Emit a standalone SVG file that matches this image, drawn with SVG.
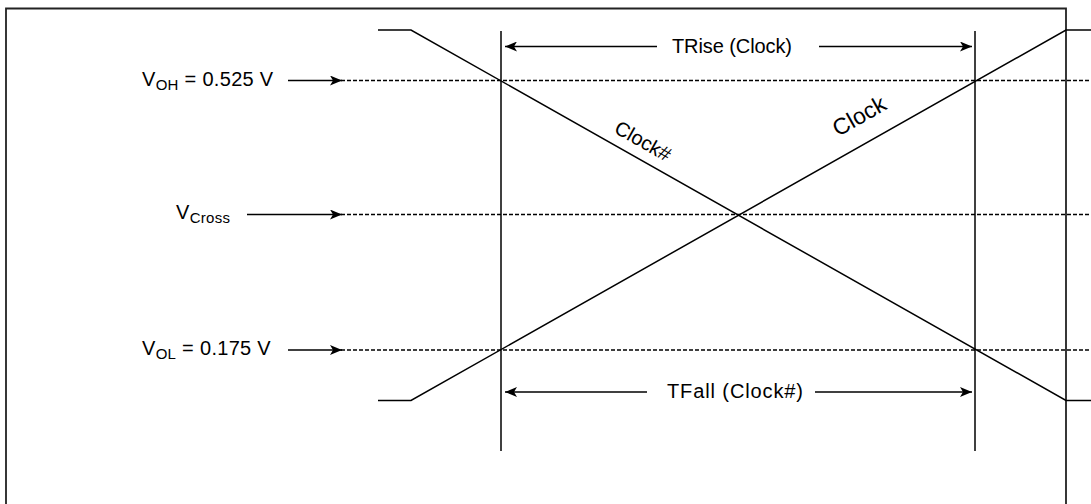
<svg xmlns="http://www.w3.org/2000/svg" width="1091" height="504" viewBox="0 0 1091 504">
<style>
.ln{stroke:#000;stroke-width:1.5;fill:none}
.ds{stroke:#000;stroke-width:1.4;fill:none;stroke-dasharray:4,2}
.fr{stroke:#222;stroke-width:1.8;fill:none}
.t{font-family:"Liberation Sans",Arial,sans-serif;font-size:20px;fill:#000}
.s{font-size:15px}
</style>
<defs>
<marker id="ah" viewBox="0 0 12 10" refX="12" refY="5" markerWidth="12" markerHeight="10" markerUnits="userSpaceOnUse" orient="auto">
<path d="M0,0 L12,5 L0,10 L3,5 z" fill="#000"/>
</marker>
</defs>
<rect x="0" y="0" width="1091" height="504" fill="#fff"/>
<g id="frame">
<path class="fr" d="M6,520 V8.5 H1066 V520"/>
</g>
<g id="levels">
<line class="ds" x1="341" y1="80.5" x2="1091" y2="80.5"/>
<line class="ds" x1="341" y1="214.5" x2="1091" y2="214.5"/>
<line class="ds" x1="341" y1="350" x2="1091" y2="350"/>
</g>
<g id="verticals">
<line class="ln" x1="501" y1="31" x2="501" y2="451"/>
<line class="ln" x1="975" y1="31" x2="975" y2="451"/>
</g>
<g id="clock-sharp">
<polyline class="ln" points="378,30 411,30 1066,400.5 1091,400.5"/>
<text class="t" x="613" y="132" transform="rotate(29.46 613 132)">Clock#</text>
</g>
<g id="clock">
<polyline class="ln" points="378,400.5 411,400.5 1066,30 1091,30"/>
<text class="t" x="838" y="137" transform="rotate(-29.46 838 137)" style="font-size:23px">Clock</text>
</g>
<g id="labels">
<text class="t" x="142" y="86" letter-spacing="0.3">V<tspan class="s" dy="4">OH</tspan><tspan dy="-4"> = 0.525 V</tspan></text>
<text class="t" x="176" y="219" letter-spacing="0.3">V<tspan class="s" dy="4">Cross</tspan></text>
<text class="t" x="142" y="355" letter-spacing="0.3">V<tspan class="s" dy="4">OL</tspan><tspan dy="-4"> = 0.175 V</tspan></text>
<text class="t" x="672" y="53" textLength="120" lengthAdjust="spacing">TRise (Clock)</text>
<text class="t" x="667" y="398" textLength="136" lengthAdjust="spacing">TFall (Clock#)</text>
</g>
<g id="connectors">
<line class="ln" x1="288" y1="80.5" x2="342" y2="80.5" marker-end="url(#ah)"/>
<line class="ln" x1="247" y1="214.5" x2="342" y2="214.5" marker-end="url(#ah)"/>
<line class="ln" x1="288" y1="350" x2="342" y2="350" marker-end="url(#ah)"/>
<line class="ln" x1="657" y1="46.5" x2="505" y2="46.5" marker-end="url(#ah)"/>
<line class="ln" x1="819" y1="46.5" x2="972" y2="46.5" marker-end="url(#ah)"/>
<line class="ln" x1="647" y1="392" x2="505" y2="392" marker-end="url(#ah)"/>
<line class="ln" x1="815" y1="392" x2="972" y2="392" marker-end="url(#ah)"/>
</g>
</svg>
